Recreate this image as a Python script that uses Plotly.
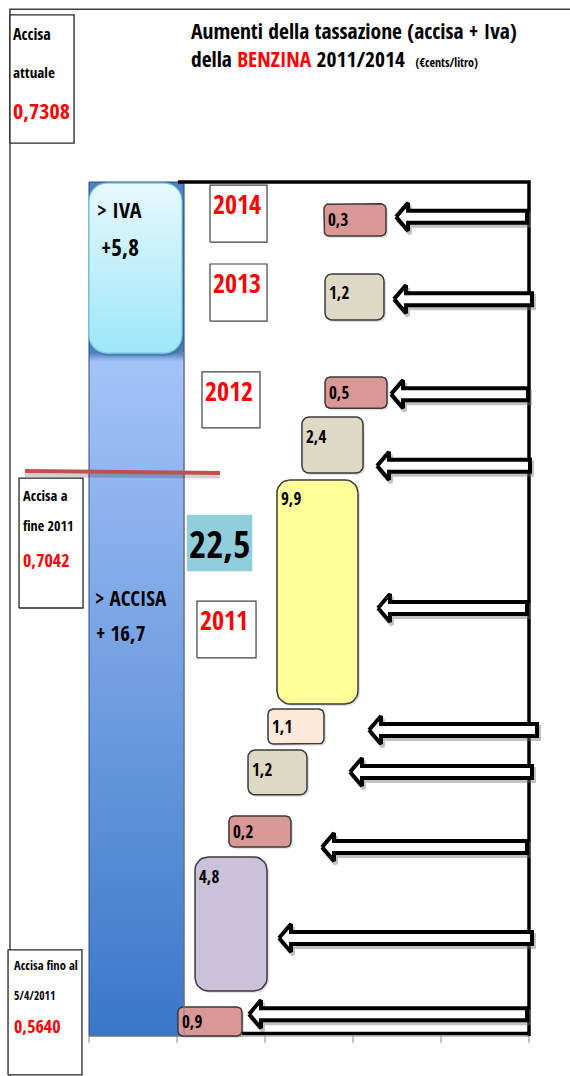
import numpy as np
import plotly.graph_objects as go

# ---------------- data ----------------
# increases of the tax on petrol (€cents/litre), chronological order (bottom -> top)
increment_values = [0.9, 4.8, 0.2, 1.2, 1.1, 9.9, 2.4, 0.5, 1.2, 0.3]
year_labels = ["2011", "2012", "2013", "2014"]
accisa_increase = 16.7
iva_increase = 5.8
total_increase = round(accisa_increase + iva_increase, 1)
level_labels = [["Accisa fino al", "5/4/2011"], ["Accisa a", "fine 2011"], ["Accisa", "attuale"]]
level_values = [0.5640, 0.7042, 0.7308]
title_text = ("Aumenti della tassazione (accisa + Iva)<br>"
              "della <span style='color:#ff0000'>BENZINA</span> 2011/2014  "
              "<span style='font-size:12px'>(€cents/litro)</span>")

# ---------------- layout positions (axis units: x = category slots, y = cents) ----------------
W, H = 570, 1076
XR = [-1.0114, 5.4659]
YR = [-1.171, 30.328]
PX_X = W / (XR[1] - XR[0])
PX_Y = H / (YR[1] - YR[0])
Y_TOP = 25

box_x0 = [1.010, 1.205, 1.590, 1.807, 2.034, 2.136, 2.420, 2.682, 2.682, 2.670]
box_x1 = [1.739, 2.023, 2.295, 2.477, 2.670, 3.057, 3.114, 3.386, 3.352, 3.375]
box_y0 = [0.00, 1.32, 5.53, 7.06, 8.55, 9.72, 16.48, 18.38, 20.96, 23.42]
box_y1 = [0.85, 5.24, 6.44, 8.37, 9.57, 16.28, 18.12, 19.29, 22.31, 24.36]
box_radius = [5, 13, 5, 7, 5, 13, 7, 5, 7, 5]
PINK, LAV, TAN, PEACH, YEL = "#d99795", "#ccc1da", "#ddd9c4", "#fde9d9", "#ffff99"
box_colors = [PINK, LAV, PINK, TAN, PEACH, YEL, TAN, PINK, TAN, PINK]

arrow_y = [0.64, 2.87, 5.53, 7.73, 8.96, 12.53, 16.69, 18.79, 21.57, 23.98]
arrow_tip = [1.818, 2.159, 2.648, 2.966, 3.182, 3.284, 3.273, 3.432, 3.466, 3.489]
arrow_end = [4.977, 5.034, 4.977, 5.034, 5.091, 4.977, 5.011, 4.989, 5.034, 4.977]

year_x0 = [1.227, 1.284, 1.375, 1.375]
year_x1 = [1.898, 1.943, 2.023, 2.023]
year_y0 = [11.07, 17.80, 20.93, 23.24]
year_y1 = [12.73, 19.44, 22.60, 24.91]

FONT = "Open Sans Condensed, Roboto Condensed, sans-serif"

fig = go.Figure()


def poly(x, y, fill="white", line="#404040", lw=1.5, **kw):
    fig.add_trace(go.Scatter(x=x, y=y, mode="lines", fill="toself", fillcolor=fill,
                             line=dict(color=line, width=lw), hoverinfo="skip",
                             showlegend=False, **kw))


def seg(x, y, color, width):
    fig.add_trace(go.Scatter(x=x, y=y, mode="lines", line=dict(color=color, width=width),
                             hoverinfo="skip", showlegend=False))


def rrect(x0, x1, y0, y1, r_px):
    rx, ry = r_px / PX_X, r_px / PX_Y
    xs, ys = [], []
    corners = [(x1 - rx, y1 - ry, 0, 90), (x0 + rx, y1 - ry, 90, 180),
               (x0 + rx, y0 + ry, 180, 270), (x1 - rx, y0 + ry, 270, 360)]
    for cx, cy, a0, a1 in corners:
        t = np.radians(np.linspace(a0, a1, 8))
        xs += list(cx + rx * np.cos(t))
        ys += list(cy + ry * np.sin(t))
    xs.append(xs[0]); ys.append(ys[0])
    return xs, ys


def text(x, y, s, size, color="black", xanchor="left", yanchor="middle"):
    fig.add_annotation(x=x, y=y, text=s, showarrow=False, xanchor=xanchor, yanchor=yanchor,
                       align="left", font=dict(family=FONT, size=size, color=color, weight=700))


def comma(v, d=1):
    return f"{v:.{d}f}".replace(".", ",")


# blue stacked bar (accisa + iva)
bar_right = 1.08
fig.add_trace(go.Scatter(x=[0, bar_right, bar_right, 0, 0], y=[0, 0, Y_TOP, Y_TOP, 0],
                         mode="lines", fill="toself", line=dict(color="#2b4a78", width=1),
                         fillgradient=dict(type="vertical",
                                           colorscale=[[0, "#3a77c8"], [0.79, "#a3c3f8"],
                                                       [0.8, "#4f80c2"], [1, "#4f80c2"]]),
                         hoverinfo="skip", showlegend=False))

# IVA rounded box (with soft shadow)
sx, sy = rrect(0.02, 1.077, 19.90, 24.9, 18)
poly(sx, sy, fill="rgba(0,0,0,0.12)", line="rgba(0,0,0,0)", lw=0)
ix, iy = rrect(0.0, 1.057, 19.99, 24.97, 18)
fig.add_trace(go.Scatter(x=ix, y=iy, mode="lines", fill="toself", line=dict(color="#72cbe2", width=1.2),
                         fillgradient=dict(type="vertical", colorscale=[[0, "#9ee6f8"], [1, "#e6f8fd"]]),
                         hoverinfo="skip", showlegend=False))
text(0.07, 24.21, "&gt; IVA", 22)
text(0.11, 23.10, "+" + comma(iva_increase), 23)
text(0.05, 12.82, "&gt; ACCISA", 21)
text(0.06, 11.80, "+ " + comma(accisa_increase), 21)

# plot frame lines and axis
seg([1.011, 5.0, 5.0], [Y_TOP, Y_TOP, 0.0], "black", 3.5)
seg([1.739, 5.0], [0.07, 0.07], "black", 3.5)
seg([0, 5.0], [0, 0], "#868686", 1)
for t in range(6):
    seg([t, t], [0, -0.2], "#868686", 1)
seg([bar_right, bar_right], [0, 20.0], "#868686", 1)
for t in [0, 10, 20]:
    seg([bar_right - 0.04, bar_right], [t, t], "#868686", 1)

# increment boxes
for i, v in enumerate(increment_values):
    bx, by = rrect(box_x0[i], box_x1[i], box_y0[i], box_y1[i], box_radius[i])
    poly([a + 2 / PX_X for a in bx], [a - 2 / PX_Y for a in by], fill="rgba(0,0,0,0.12)",
         line="rgba(0,0,0,0)", lw=0)
    poly(bx, by, fill=box_colors[i], line="#3a3a3a", lw=1.5)
    h_px = (box_y1[i] - box_y0[i]) * PX_Y
    ty = box_y1[i] - min(h_px / 2, 19) / PX_Y
    text(box_x0[i] + 2 / PX_X, ty, comma(v), 17)

# grey axis spine over the first box
seg([bar_right, bar_right], [0, 1.0], "#868686", 1)

# year boxes
for i, yl in enumerate(year_labels):
    poly([year_x0[i], year_x1[i], year_x1[i], year_x0[i], year_x0[i]],
         [year_y0[i], year_y0[i], year_y1[i], year_y1[i], year_y0[i]], fill="white", line="#404040", lw=1.2)
    text(year_x0[i] + 1 / PX_X, year_y1[i] - 18.6 / PX_Y, yl, 26, color="#ff0000")

# total box
poly([1.114, 1.852, 1.852, 1.114, 1.114], [13.61, 13.61, 15.25, 15.25, 13.61], fill="#92cddc", line="#92cddc", lw=0.5)
text(1.483, 14.43, comma(total_increase), 37, xanchor="center")

# arrows
hl, hh, sh = 12 / PX_X, 14 / PX_Y, 6 / PX_Y
for yc, xt, xe in zip(arrow_y, arrow_tip, arrow_end):
    ax = [xt, xt + hl, xt + hl, xe, xe, xt + hl, xt + hl, xt]
    ay = [yc, yc + hh, yc + sh, yc + sh, yc - sh, yc - sh, yc - hh, yc]
    ax2 = [a + 2 / PX_X for a in ax]
    ay2 = [a - 3 / PX_Y for a in ay]
    poly(ax2, ay2, fill="rgba(0,0,0,0)", line="rgba(120,120,120,0.45)", lw=4)
    poly(ax, ay, fill="white", line="black", lw=4)

# red line marking end-2011 accisa
seg([-0.727, 1.489], [16.42, 16.38], "rgba(0,0,0,0.18)", 4)
seg([-0.727, 1.489], [16.54, 16.48], "#c0504d", 4)

# outer frame
seg([-0.898, -0.898, 5.47], [YR[0], 30.06, 30.06], "#404040", 1.5)

# side boxes with accisa levels
side_x0 = [-0.920, -0.795, -0.898]
side_x1 = [-0.080, -0.068, -0.170]
side_y0 = [-1.14, 12.53, 26.14]
side_y1 = [2.52, 16.33, 29.89]
side_line_y = [[2.05, 1.20, 0.29], [15.81, 14.93, 13.93], [29.33, 28.21, 27.11]]
side_txt_x = [-0.875, -0.773, -0.886]
side_sizes = [[12.5, 11.5, 18], [14.5, 14, 18], [16, 15, 22]]
for i in range(3):
    poly([side_x0[i], side_x1[i], side_x1[i], side_x0[i], side_x0[i]],
         [side_y0[i], side_y0[i], side_y1[i], side_y1[i], side_y0[i]], fill="white", line="#262626", lw=1.3)
    text(side_txt_x[i], side_line_y[i][0], level_labels[i][0], side_sizes[i][0])
    text(side_txt_x[i], side_line_y[i][1], level_labels[i][1], side_sizes[i][1])
    text(side_txt_x[i], side_line_y[i][2], comma(level_values[i], 4), side_sizes[i][2], color="#ff0000")

# title (two lines)
text(1.136, 29.03, title_text, 21.5)

fig.update_layout(width=W, height=H, margin=dict(l=0, r=0, t=0, b=0), autosize=False,
                  paper_bgcolor="white", plot_bgcolor="white", showlegend=False,
                  xaxis=dict(range=XR, visible=False, fixedrange=True),
                  yaxis=dict(range=YR, visible=False, fixedrange=True))
fig.write_html("out.html", config={"displayModeBar": False, "staticPlot": True},
               post_script="document.body.style.margin='0px';")
